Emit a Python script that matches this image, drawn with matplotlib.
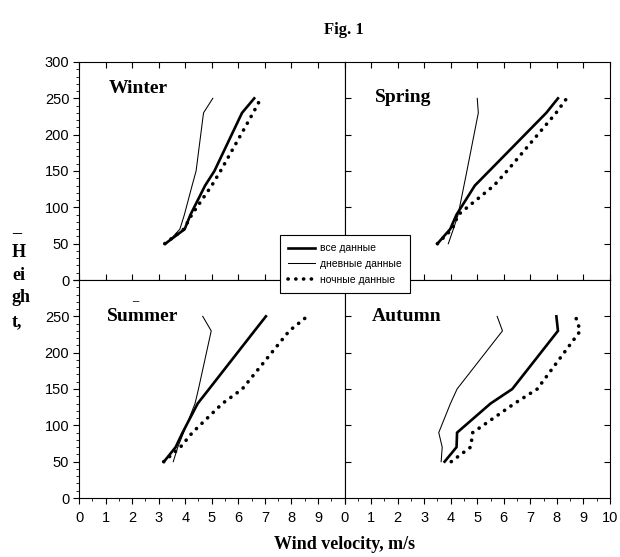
import numpy as np
import matplotlib
matplotlib.use('Agg')
import matplotlib.pyplot as plt
from matplotlib.ticker import MultipleLocator, FixedLocator

# heights (m) and wind speed (m/s)
heights = [50, 70, 90, 130, 150, 230, 250]

winter_all = [3.25, 3.98, 4.2, 4.75, 5.1, 6.14, 6.6]
winter_day = [3.3, 3.8, 3.97, 4.26, 4.41, 4.69, 5.04]
winter_night = [3.23, 3.95, 4.25, 5.0, 5.33, 6.56, 6.85]

spring_all = [3.5, 3.98, 4.22, 4.91, 5.45, 7.6, 8.04]
spring_day = [3.91, 4.1, 4.28, 4.5, 4.61, 5.04, 5.0]
spring_night = [3.5, 4.05, 4.29, 5.63, 6.12, 7.97, 8.37]

summer_all = [3.2, 3.64, 3.9, 4.47, 4.9, 6.61, 7.04]
summer_day = [3.55, 3.72, 3.94, 4.37, 4.5, 4.98, 4.66]
summer_night = [3.19, 3.82, 4.27, 5.4, 6.15, 7.92, 8.6]

autumn_all = [3.77, 4.22, 4.24, 5.5, 6.32, 8.04, 7.98]
autumn_day = [3.64, 3.68, 3.55, 3.99, 4.24, 5.95, 5.75]
autumn_night = [4.02, 4.75, 4.83, 6.4, 7.26, 8.88, 8.7]

seasons = ['Winter', 'Spring', 'Summer', 'Autumn']
legend_labels = ['все данные', 'дневные данные', 'ночные данные']

plt.rcParams['font.family'] = ['Liberation Sans', 'DejaVu Sans']
serif = ['Liberation Serif', 'DejaVu Serif']

fig = plt.figure(figsize=(6.2, 5.57), dpi=100, facecolor='w')

W, H = 620., 557.
x0l, x0r, pw = 79, 344.5, 265.5
y_top, y_mid, y_bot = 62, 280, 498
ph = (y_mid - y_top) / H

pos = {'Winter': [x0l / W, 1 - y_mid / H, pw / W, ph],
       'Spring': [x0r / W, 1 - y_mid / H, pw / W, ph],
       'Summer': [x0l / W, 1 - y_bot / H, pw / W, ph],
       'Autumn': [x0r / W, 1 - y_bot / H, pw / W, ph]}

data = {'Winter': (winter_all, winter_day, winter_night),
        'Spring': (spring_all, spring_day, spring_night),
        'Summer': (summer_all, summer_day, summer_night),
        'Autumn': (autumn_all, autumn_day, autumn_night)}

title_pos = {'Winter': (0.113, 0.88), 'Spring': (0.115, 0.835),
             'Summer': (0.105, 0.832), 'Autumn': (0.104, 0.832)}

handles = []
for s in seasons:
    ax = fig.add_axes(pos[s])
    v_all, v_day, v_night = data[s]
    h1, = ax.plot(v_all, heights, color='k', lw=1.9, solid_joinstyle='miter')
    h2, = ax.plot(v_day, heights, color='k', lw=0.75)
    h3, = ax.plot(v_night, heights, color='k', lw=2.6,
                  linestyle=(0, (0.05, 2.1)), dash_capstyle='round')
    if not handles:
        handles = [h1, h2, h3]
    ax.set_xlim(0, 10)
    ax.set_ylim(0, 300)
    for sp in ax.spines.values():
        sp.set_linewidth(0.8)

    ax.text(title_pos[s][0], title_pos[s][1], s, transform=ax.transAxes,
            family=serif, fontweight='bold', fontsize=14, va='center', ha='left')

    left = s in ('Winter', 'Summer')
    bottom = s in ('Summer', 'Autumn')

    # x axis
    ax.xaxis.set_major_locator(MultipleLocator(1))
    if bottom:
        ax.xaxis.set_minor_locator(MultipleLocator(0.5))
        ax.tick_params(axis='x', which='major', direction='out', length=4,
                       top=True, labelsize=10.5, pad=5)
        ax.tick_params(axis='x', which='minor', direction='out', length=2.5,
                       top=False)
        ax.set_xticks(range(0, 11))
        if left:
            ax.set_xticklabels([str(i) for i in range(0, 10)] + [''])
    else:
        ax.tick_params(axis='x', which='major', direction='in', length=4,
                       bottom=False, top=True, labelbottom=False)

    # y axis
    if left:
        ax.yaxis.set_major_locator(MultipleLocator(50))
        ax.yaxis.set_minor_locator(MultipleLocator(10))
        ax.tick_params(axis='y', which='major', direction='out', length=4,
                       labelsize=10.5, pad=3)
        ax.tick_params(axis='y', which='minor', direction='out', length=2.5)
        if bottom:
            ax.set_yticks(range(0, 301, 50))
            ax.set_yticklabels([str(v) for v in range(0, 251, 50)] + [''])
    else:
        ax.yaxis.set_major_locator(FixedLocator(range(50, 300, 50)))
        ax.tick_params(axis='y', which='major', direction='in', length=4,
                       left=True, right=True, labelleft=False)

    if s == 'Summer':
        # stray overline mark above the word
        ax.text(0.21, 0.905, '\u2013', transform=ax.transAxes, family=serif,
                fontsize=9, fontweight='bold', ha='center', va='center')

leg = fig.legend(handles, legend_labels, loc='center',
                 bbox_to_anchor=(0.556, 0.526), fontsize=7.5,
                 frameon=True, fancybox=False, framealpha=1,
                 edgecolor='k', handlelength=2.6, handletextpad=0.5,
                 labelspacing=0.55, borderpad=0.75, borderaxespad=0)
leg.get_frame().set_linewidth(0.8)

fig.text(0.555, 0.947, 'Fig. 1', family=serif, fontweight='bold', fontsize=12,
         ha='center', va='center')
fig.text(0.555, 0.022, 'Wind velocity, m/s', family=serif, fontweight='bold',
         fontsize=13, ha='center', va='center')

# broken vertical y label
for txt, yy in [('\u2013', 234), ('H', 252), ('ei', 276), ('gh', 298), ('t,', 322)]:
    fig.text(12 / W, 1 - yy / H, txt, family=serif, fontweight='bold',
             fontsize=13, ha='left', va='center')

fig.savefig('out.png', dpi=100, facecolor='w')
